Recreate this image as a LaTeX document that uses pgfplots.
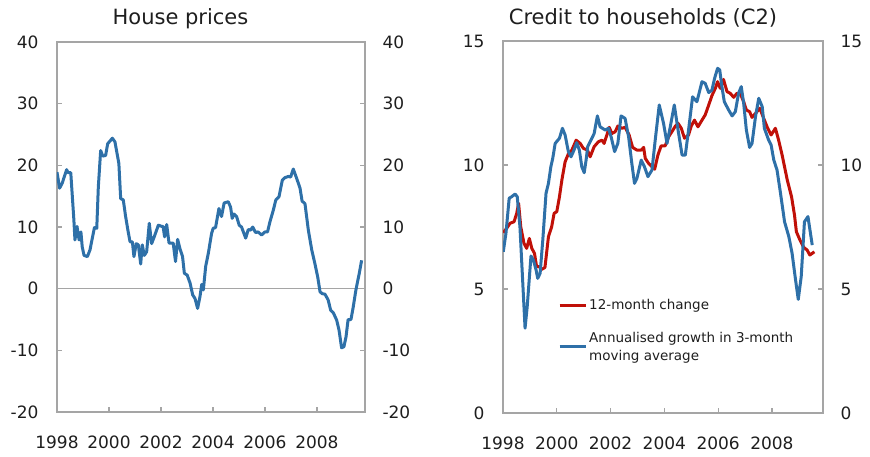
\documentclass[border=0pt]{standalone}
\usepackage{fontspec}
\setmainfont{DejaVu Sans}
\usepackage{pgfplots}
\pgfplotsset{compat=1.18}
\definecolor{nbblue}{RGB}{46,112,168}
\definecolor{nbred}{RGB}{192,16,8}
\definecolor{axgray}{RGB}{165,165,165}
\definecolor{txt}{RGB}{30,30,30}
\pgfplotsset{
  common/.style={
    scale only axis, anchor=south west, xmin=1998,
    axis line style={axgray, line width=1.2pt},
    tick style={axgray, line width=1.2pt},
    major tick length=5pt, tick align=inside,
    xtick pos=left, ytick pos=both,
    xtick={1998,2000,2002,2004,2006,2008},
    xticklabels={1998,2000,2002,2004,2006,2008},
    ticklabel style={font=\fontsize{17}{20}\selectfont, text=txt},
    /pgf/number format/assume math mode=true,
    xticklabel style={yshift=-20pt},
    yticklabel style={xshift=-15pt},
  },
  rightlabels/.style={
    scale only axis, anchor=south west, xmin=1998,
    hide x axis, axis line style={draw=none}, ytick style={draw=none},
    yticklabel pos=right,
    ticklabel style={font=\fontsize{17}{20}\selectfont, text=txt},
    /pgf/number format/assume math mode=true,
    yticklabel style={xshift=14pt},
  },
}
\begin{document}
\begin{tikzpicture}
\useasboundingbox (0,0) rectangle (870pt,456pt);
% ---------- House prices ----------
\begin{axis}[common, at={(57pt,44pt)}, width=308pt, height=370pt,
  xmax=2009.85, ymin=-20, ymax=40, ytick={-20,-10,...,40}]
\addplot[axgray, line width=1.2pt, forget plot] coordinates {(1998,0) (2009.85,0)};
\addplot[nbblue, line width=3pt, line join=round] coordinates {
(1998.00,18.9) (1998.10,16.3) (1998.20,17.1) (1998.37,19.3) (1998.43,18.8) (1998.53,18.8)
(1998.65,11.1) (1998.69,7.9) (1998.77,10.1) (1998.85,7.9) (1998.92,9.2) (1998.97,6.8)
(1999.04,5.4) (1999.17,5.2) (1999.27,6.3) (1999.44,9.9) (1999.53,9.8) (1999.59,16.5)
(1999.68,22.4) (1999.76,21.5) (1999.87,21.6) (1999.95,23.5) (2000.13,24.4) (2000.23,23.8)
(2000.38,20.3) (2000.45,14.6) (2000.55,14.4) (2000.64,11.7) (2000.74,9.2) (2000.81,7.6)
(2000.90,7.6) (2000.96,5.2) (2001.05,7.3) (2001.13,7.1) (2001.22,4.0) (2001.28,7.1)
(2001.36,5.4) (2001.45,6.0) (2001.55,10.6) (2001.64,7.3) (2001.74,8.4) (2001.90,10.3)
(2002.03,10.1) (2002.08,10.1) (2002.14,8.4) (2002.22,10.4) (2002.31,7.4) (2002.47,7.4)
(2002.56,4.4) (2002.64,8.0) (2002.73,6.5) (2002.83,5.2) (2002.90,2.5) (2003.01,2.2)
(2003.12,0.9) (2003.22,-1.0) (2003.31,-1.6) (2003.41,-3.2) (2003.50,-1.3) (2003.57,0.7)
(2003.63,-0.2) (2003.72,3.6) (2003.82,5.7) (2003.95,9.0) (2004.01,9.8) (2004.10,9.9)
(2004.23,13.0) (2004.33,11.7) (2004.43,13.9) (2004.59,14.1) (2004.68,13.2) (2004.74,11.4)
(2004.81,12.1) (2004.91,11.7) (2005.01,10.3) (2005.10,10.0) (2005.26,8.2) (2005.36,9.6)
(2005.45,9.5) (2005.53,10.0) (2005.64,9.1) (2005.74,9.2) (2005.87,8.7) (2006.00,9.2)
(2006.10,9.2) (2006.19,10.8) (2006.32,12.7) (2006.42,14.4) (2006.54,14.9) (2006.67,17.6)
(2006.77,18.0) (2006.90,18.2) (2006.99,18.1) (2007.09,19.4) (2007.22,17.9) (2007.35,16.3)
(2007.43,14.2) (2007.54,13.8) (2007.67,9.5) (2007.80,6.3) (2007.92,4.1) (2008.03,1.9)
(2008.12,-0.5) (2008.20,-0.8) (2008.31,-0.9) (2008.43,-1.8) (2008.53,-3.5) (2008.63,-3.9)
(2008.76,-5.1) (2008.85,-6.7) (2008.95,-9.6) (2009.04,-9.4) (2009.12,-7.8) (2009.20,-5.0)
(2009.31,-5.0) (2009.40,-2.9) (2009.50,-0.2) (2009.63,2.5) (2009.72,4.6)
};
\end{axis}
\begin{axis}[rightlabels, at={(57pt,44pt)}, width=308pt, height=370pt,
  xmax=2009.85, ymin=-20, ymax=40, ytick={-20,-10,...,40}]
\end{axis}
% ---------- Credit ----------
\begin{axis}[common, at={(503pt,43pt)}, width=320pt, height=372pt,
  xmax=2009.9, ymin=0, ymax=15, ytick={0,5,10,15},
  legend style={at={(0.172,0.312)}, anchor=north west, draw=none, fill=none,
    font=\fontsize{13.5}{18}\selectfont, text=txt, cells={anchor=west, align=left},
    row sep=17pt, inner sep=0pt},
  legend image code/.code={\draw[#1] (0pt,0pt) -- (26pt,0pt);}]
\addplot[nbred, line width=3pt, line join=round] coordinates {
(1998.01,7.27) (1998.14,7.45) (1998.26,7.65) (1998.41,7.71) (1998.51,8.05) (1998.58,8.45)
(1998.66,7.51) (1998.78,6.84) (1998.88,6.64) (1998.98,7.04) (1999.07,6.64) (1999.17,6.44)
(1999.25,5.90) (1999.35,5.90) (1999.44,5.79) (1999.56,5.87) (1999.69,7.11) (1999.81,7.51)
(1999.90,8.05) (2000.00,8.12) (2000.10,8.72) (2000.19,9.40) (2000.31,10.13) (2000.43,10.45)
(2000.56,10.60) (2000.72,11.00) (2000.87,10.87) (2000.99,10.67) (2001.14,10.60) (2001.24,10.33)
(2001.39,10.74) (2001.55,10.94) (2001.68,11.00) (2001.76,10.87) (2001.86,11.20) (2001.95,11.52)
(2002.05,11.27) (2002.17,11.34) (2002.27,11.57) (2002.42,11.48) (2002.54,11.52) (2002.69,11.21)
(2002.82,10.71) (2002.98,10.60) (2003.14,10.60) (2003.23,10.71) (2003.29,10.27) (2003.41,10.07)
(2003.54,9.93) (2003.64,9.83) (2003.76,10.40) (2003.88,10.77) (2004.03,10.77) (2004.16,11.14)
(2004.28,11.34) (2004.41,11.57) (2004.51,11.68) (2004.63,11.48) (2004.75,11.08) (2004.90,11.21)
(2005.00,11.57) (2005.12,11.81) (2005.25,11.54) (2005.40,11.81) (2005.52,12.02) (2005.65,12.42)
(2005.77,12.80) (2005.90,13.10) (2005.98,13.36) (2006.08,13.09) (2006.20,13.45) (2006.33,12.96)
(2006.45,12.89) (2006.58,12.73) (2006.70,12.89) (2006.83,12.86) (2006.95,12.55) (2007.05,12.22)
(2007.17,12.15) (2007.26,11.92) (2007.39,12.08) (2007.55,12.29) (2007.67,11.95) (2007.82,11.54)
(2007.97,11.21) (2008.13,11.48) (2008.25,11.00) (2008.38,10.40) (2008.57,9.40) (2008.73,8.72)
(2008.84,7.98) (2008.91,7.31) (2009.04,6.98) (2009.18,6.68) (2009.31,6.57) (2009.41,6.37)
(2009.58,6.50)
};
\addlegendentry{12-month change}
\addplot[nbblue, line width=3pt, line join=round] coordinates {
(1998.01,6.50) (1998.11,7.25) (1998.23,8.66) (1998.32,8.72) (1998.45,8.83) (1998.53,8.72)
(1998.63,7.51) (1998.73,5.36) (1998.82,3.42) (1998.90,4.29) (1999.04,6.33) (1999.13,6.17)
(1999.23,5.77) (1999.29,5.43) (1999.38,5.63) (1999.48,6.98) (1999.60,8.86) (1999.69,9.26)
(1999.78,9.93) (1999.85,10.27) (1999.94,10.87) (2000.10,11.08) (2000.21,11.48) (2000.31,11.21)
(2000.43,10.54) (2000.53,10.33) (2000.64,10.60) (2000.74,10.90) (2000.84,10.60) (2000.93,9.93)
(2001.02,9.69) (2001.09,10.20) (2001.15,10.74) (2001.27,11.00) (2001.39,11.27) (2001.51,11.98)
(2001.61,11.54) (2001.80,11.41) (2001.92,11.48) (2002.02,11.14) (2002.15,10.54) (2002.27,10.87)
(2002.39,11.98) (2002.54,11.88) (2002.67,11.14) (2002.79,10.07) (2002.89,9.26) (2002.98,9.46)
(2003.14,10.20) (2003.26,9.93) (2003.39,9.53) (2003.54,9.80) (2003.66,11.00) (2003.81,12.42)
(2003.97,11.68) (2004.10,10.87) (2004.22,11.54) (2004.37,12.42) (2004.51,11.41) (2004.66,10.40)
(2004.78,10.40) (2004.90,11.41) (2005.05,12.75) (2005.21,12.55) (2005.40,13.36) (2005.52,13.29)
(2005.65,12.92) (2005.77,13.02) (2005.87,13.50) (2005.98,13.90) (2006.06,13.83) (2006.14,13.16)
(2006.23,12.55) (2006.39,12.22) (2006.52,11.98) (2006.64,12.15) (2006.76,12.89) (2006.86,13.16)
(2006.95,12.49) (2007.05,11.41) (2007.17,10.71) (2007.26,10.87) (2007.39,11.95) (2007.51,12.69)
(2007.64,12.35) (2007.72,11.48) (2007.88,11.00) (2007.97,10.81) (2008.07,10.20) (2008.19,9.80)
(2008.32,8.86) (2008.47,7.71) (2008.63,7.11) (2008.75,6.44) (2008.88,5.36) (2008.98,4.58)
(2009.09,5.50) (2009.21,7.71) (2009.34,7.92) (2009.50,6.77)
};
\addlegendentry{Annualised growth in 3-month\\moving average}
\end{axis}
\begin{axis}[rightlabels, at={(503pt,43pt)}, width=320pt, height=372pt,
  xmax=2009.9, ymin=0, ymax=15, ytick={0,5,10,15}]
\end{axis}
\node[anchor=base, font=\fontsize{21}{24}\selectfont, text=txt] at (180.5pt,431pt) {House prices};
\node[anchor=base, font=\fontsize{21}{24}\selectfont, text=txt] at (643pt,431pt) {Credit to households (C2)};
\end{tikzpicture}
\end{document}
